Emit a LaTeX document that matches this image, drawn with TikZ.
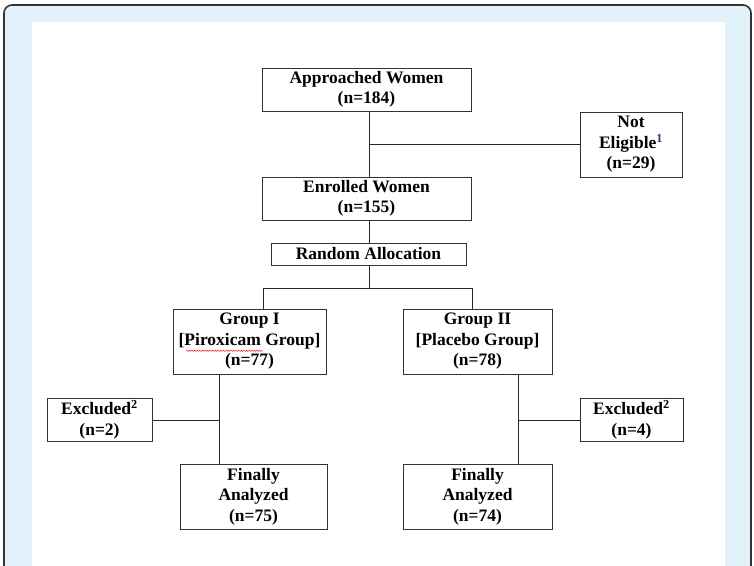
\documentclass[tikz,border=0pt]{standalone}
\usepackage{fontspec}
\setmainfont{Liberation Serif}
\usetikzlibrary{decorations.pathmorphing}
\definecolor{frameblue}{HTML}{E1F2FB}
\definecolor{supnavy}{HTML}{1F3864}
\begin{document}
\begin{tikzpicture}[x=1pt,y=1pt,
 box/.style={draw=black!80, line width=1pt, fill=white, inner sep=0pt, align=center,
   font=\fontsize{17.5}{20.5}\selectfont\bfseries},
 conn/.style={draw=black!85, line width=0.9pt},
 wavy/.style={draw=red, line width=0.45pt, decorate, decoration={snake, amplitude=0.6pt, segment length=2.6pt}}]
\useasboundingbox (0,0) rectangle (754,-565);
\begin{scope}
\clip (0,0) rectangle (754,-565);
\draw[fill=frameblue, draw=black!80, line width=1.6pt, rounded corners=8pt] (4,-5) rectangle (751,-600);
\fill[white] (32,-22) rectangle (725,-600);
\end{scope}

\node[box, minimum width=209pt, minimum height=43pt] (app) at (366.5,-89.5) {Approached Women\\(n=184)};
\node[box, minimum width=102pt, minimum height=65pt] (ne) at (631,-144.5) {Not\\Eligible\textsuperscript{\color{supnavy}1}\\(n=29)};
\node[box, minimum width=209pt, minimum height=43pt] (enr) at (366.5,-198.5) {Enrolled Women\\(n=155)};
\node[box, minimum width=195pt, minimum height=22pt] (rand) at (368.5,-254) {Random Allocation};
\node[box, minimum width=153pt, minimum height=65pt] (g1) at (249.5,-341.5) {Group I\\{[}Piroxicam Group]\\(n=77)};
\node[box, minimum width=149pt, minimum height=65pt] (g2) at (477.5,-341.5) {Group II\\{[}Placebo Group]\\(n=78)};
\node[box, minimum width=105pt, minimum height=43pt] (exl) at (99.5,-419.5) {Excluded\textsuperscript{2}\\(n=2)};
\node[box, minimum width=103pt, minimum height=43pt] (exr) at (631.5,-419.5) {Excluded\textsuperscript{2}\\(n=4)};
\node[box, minimum width=147pt, minimum height=65pt] (fl) at (253.5,-496.5) {Finally\\Analyzed\\(n=75)};
\node[box, minimum width=149pt, minimum height=65pt] (fr) at (477.5,-496.5) {Finally\\Analyzed\\(n=74)};

\coordinate (vx) at (369,0);
\coordinate (j1) at (369,-144);
\coordinate (j2) at (369,-288);
\coordinate (jl) at (263,-288);
\coordinate (jr) at (472,-288);
\coordinate (kl) at (219,-420);
\coordinate (kr) at (518,-420);

\draw[conn] (app.south -| vx) -- (enr.north -| vx);
\draw[conn] (j1) -- (j1 -| ne.west);
\draw[conn] (enr.south -| vx) -- (rand.north -| vx);
\draw[conn] (rand.south -| vx) -- (j2);
\draw[conn] (g1.north -| jl) -- (jl) -- (jr) -- (g2.north -| jr);
\draw[conn] (g1.south -| kl) -- (fl.north -| kl);
\draw[conn] (kl) -- (kl -| exl.east);
\draw[conn] (g2.south -| kr) -- (fr.north -| kr);
\draw[conn] (kr) -- (kr -| exr.west);

\coordinate (wa) at (186,-350.8);
\coordinate (wb) at (263,-350.8);
\draw[wavy] (wa) -- (wb);
\end{tikzpicture}
\end{document}
